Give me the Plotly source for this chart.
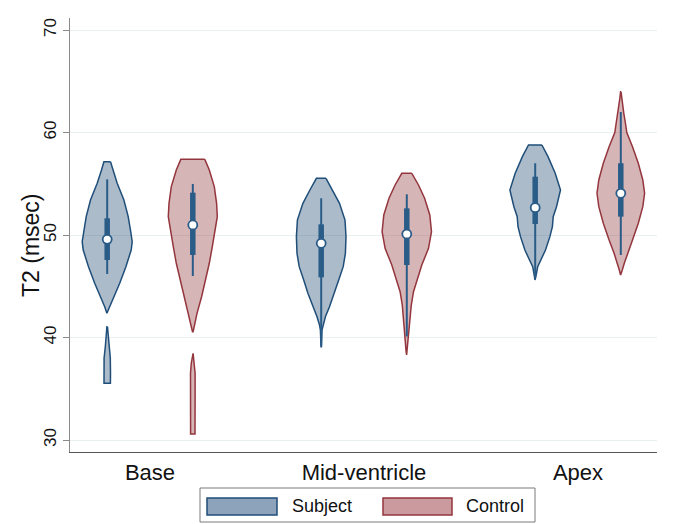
import plotly.graph_objects as go

# ---------------- data ----------------
REGIONS = ["Base", "Mid-ventricle", "Apex"]
GROUPS = ["Subject", "Control"]
Y_TICKS = [30, 40, 50, 60, 70]

# violin outlines: T2 levels (msec) and relative density (half-width, arbitrary units)
base_subject_y = [57.15, 56.34, 55.04, 53.41, 51.79, 50.16, 49.35, 48.54, 46.91, 45.29, 43.98, 43.0, 42.36]
base_subject_d = [3.3, 5.7, 10.0, 16.7, 21.0, 23.8, 25.0, 24.0, 18.7, 12.5, 7.0, 2.5, 0.3]
base_subject_tail_y = [41.05, 40.4, 39.1, 38.0, 36.5, 35.53]
base_subject_tail_d = [0.3, 1.0, 1.9, 3.1, 3.3, 3.2]

base_control_y = [57.38, 56.34, 54.72, 53.09, 51.79, 50.49, 48.86, 47.24, 45.61, 43.98, 42.36, 41.05, 40.57]
base_control_d = [12.0, 16.5, 21.5, 23.8, 24.5, 22.5, 19.5, 16.5, 13.0, 8.8, 4.2, 1.5, 0.3]
base_control_tail_y = [38.46, 37.5, 36.5, 34.0, 32.0, 30.58]
base_control_tail_d = [0.3, 1.5, 2.3, 2.3, 2.2, 2.2]

mid_subject_y = [55.53, 54.39, 53.09, 51.46, 49.84, 48.21, 46.91, 45.61, 44.31, 43.0, 42.03, 41.22, 40.73, 39.1]
mid_subject_d = [4.8, 11.3, 18.3, 23.8, 24.8, 24.2, 22.0, 17.5, 13.3, 8.3, 4.2, 1.7, 0.8, 0.2]

mid_control_y = [56.02, 54.88, 53.58, 51.95, 50.33, 48.70, 47.07, 45.44, 44.47, 43.17, 41.54, 39.92, 38.62, 38.3]
mid_control_d = [5.0, 11.7, 17.8, 23.0, 24.7, 21.7, 15.0, 10.0, 6.7, 4.5, 3.0, 1.8, 0.7, 0.2]

apex_subject_y = [58.78, 57.64, 56.02, 54.39, 52.76, 51.79, 50.81, 49.84, 48.54, 47.56, 46.91, 46.26, 45.61]
apex_subject_d = [6.7, 12.8, 20.0, 25.3, 21.3, 18.0, 17.2, 14.7, 10.3, 5.7, 2.5, 1.3, 0.2]

apex_control_y = [63.98, 63.3, 62.85, 61.87, 61.0, 60.0, 58.62, 57.0, 55.37, 54.07, 52.76, 51.14, 49.51, 48.21, 47.24, 46.59, 46.1]
apex_control_d = [0.2, 1.0, 1.7, 3.0, 4.5, 6.0, 11.7, 17.5, 22.0, 23.8, 22.0, 17.5, 11.7, 6.7, 3.5, 1.5, 0.2]

# box-plot summaries (Base, Mid-ventricle, Apex)
subject_whisker_lo = [46.2, 39.2, 45.8]
subject_q1 = [47.56, 45.87, 51.07]
subject_median = [49.58, 49.19, 52.67]
subject_q3 = [51.63, 51.04, 55.69]
subject_whisker_hi = [55.43, 53.58, 57.0]

control_whisker_lo = [46.0, 40.1, 48.05]
control_q1 = [48.05, 47.07, 51.79]
control_median = [50.98, 50.1, 54.07]
control_q3 = [54.13, 52.6, 57.0]
control_whisker_hi = [54.98, 53.97, 62.0]

# ---------------- styling ----------------
PAGE_OFF = 8                      # default page body margin of the html page
W, H = 674 - PAGE_OFF, 524 - PAGE_OFF
ML, MR, MT, MB = 70 - PAGE_OFF, 17, 18 - PAGE_OFF, 72
PW, PH = W - ML - MR, H - MT - MB
FONT = "Liberation Sans, Arial, Helvetica, sans-serif"

OUTLINE = {"Subject": "#1F4E79", "Control": "#94363D"}
FILL = {"Subject": "rgba(26,71,111,0.37)", "Control": "rgba(144,53,59,0.37)"}
LEG_FILL = {"Subject": "#8CA3BB", "Control": "#CA9A9E"}
BOXCOL = "#2A5C88"
OFFSET = 0.2
DENS_SCALE = 1.0 / 214.0   # density units -> x-axis units

X_RANGE = [1 - 80 / 214, 3 + 79 / 214]
Y_RANGE = [30 - 12 / 10.25, 70 + 12 / 10.25]

violins = {
    ("Base", "Subject"): [(base_subject_y, base_subject_d), (base_subject_tail_y, base_subject_tail_d)],
    ("Base", "Control"): [(base_control_y, base_control_d), (base_control_tail_y, base_control_tail_d)],
    ("Mid-ventricle", "Subject"): [(mid_subject_y, mid_subject_d)],
    ("Mid-ventricle", "Control"): [(mid_control_y, mid_control_d)],
    ("Apex", "Subject"): [(apex_subject_y, apex_subject_d)],
    ("Apex", "Control"): [(apex_control_y, apex_control_d)],
}
stats = {
    "Subject": (subject_whisker_lo, subject_q1, subject_median, subject_q3, subject_whisker_hi),
    "Control": (control_whisker_lo, control_q1, control_median, control_q3, control_whisker_hi),
}


def center(i, g):
    return (i + 1) + (-OFFSET if g == "Subject" else OFFSET)


fig = go.Figure()

for i, region in enumerate(REGIONS):
    for g in GROUPS:
        c = center(i, g)
        for ys, ds in violins[(region, g)]:
            xs = [c + d * DENS_SCALE for d in ds] + [c - d * DENS_SCALE for d in reversed(ds)]
            yy = list(ys) + list(reversed(ys))
            xs.append(xs[0]); yy.append(yy[0])
            fig.add_trace(go.Scatter(x=xs, y=yy, mode="lines", fill="toself",
                                     fillcolor=FILL[g], line=dict(color=OUTLINE[g], width=1.5),
                                     hoverinfo="skip", showlegend=False))

for i, region in enumerate(REGIONS):
    for g in GROUPS:
        c = center(i, g)
        lo, q1, med, q3, hi = (s[i] for s in stats[g])
        fig.add_trace(go.Scatter(x=[c, c], y=[lo, hi], mode="lines",
                                 line=dict(color=BOXCOL, width=2), hoverinfo="skip", showlegend=False))
        fig.add_trace(go.Scatter(x=[c, c], y=[q1, q3], mode="lines",
                                 line=dict(color=BOXCOL, width=5.5), hoverinfo="skip", showlegend=False))
        fig.add_trace(go.Scatter(x=[c], y=[med], mode="markers",
                                 marker=dict(symbol="circle", size=9, color="white",
                                             line=dict(color=BOXCOL, width=1.8)),
                                 hoverinfo="skip", showlegend=False))


# convert screen pixel positions (as seen in the reference) to paper coordinates
def px(xp):
    return (xp - PAGE_OFF - ML) / PW


def py(yp):
    return (H - MB - (yp - PAGE_OFF)) / PH


shapes = [dict(type="rect", xref="paper", yref="paper", x0=px(200), x1=px(535), y0=py(522), y1=py(488),
               line=dict(color="#7A7A7A", width=1), fillcolor="white", layer="above")]
annotations = []
legend_pos = {"Subject": (207, 277, 290), "Control": (383, 452, 464)}
for g in GROUPS:
    x0, x1, tx = legend_pos[g]
    shapes.append(dict(type="rect", xref="paper", yref="paper", x0=px(x0), x1=px(x1),
                       y0=py(515), y1=py(498), line=dict(color=OUTLINE[g], width=1.5),
                       fillcolor=LEG_FILL[g], layer="above"))
    annotations.append(dict(text=g, xref="paper", yref="paper", x=px(tx), y=py(506),
                            xanchor="left", yanchor="middle", showarrow=False,
                            font=dict(family=FONT, size=18, color="#111")))

annotations.append(dict(text="T2 (msec)", xref="paper", yref="paper", x=px(31), y=py(245),
                        xanchor="center", yanchor="middle", textangle=-90, showarrow=False,
                        font=dict(family=FONT, size=23, color="#111")))

fig.update_layout(
    width=W, height=H, margin=dict(l=ML, r=MR, t=MT, b=MB),
    paper_bgcolor="white", plot_bgcolor="white",
    showlegend=False, hovermode=False,
    shapes=shapes, annotations=annotations,
    font=dict(family=FONT, color="#111"),
)
fig.update_xaxes(range=X_RANGE, tickvals=[1, 2, 3], ticktext=REGIONS, ticks="",
                 showgrid=False, zeroline=False, showline=True, linecolor="#555", linewidth=1.3,
                 tickfont=dict(family=FONT, size=22, color="#111"), fixedrange=True)
fig.update_yaxes(range=Y_RANGE, tickvals=Y_TICKS, ticks="outside", ticklen=6, tickcolor="#8A8A8A",
                 tickwidth=1, tickangle=-90, showgrid=True, gridcolor="#E8F0F2", gridwidth=1,
                 zeroline=False, showline=True, linecolor="#8A8A8A", linewidth=1.3,
                 tickfont=dict(family=FONT, size=17, color="#111"), fixedrange=True)

fig.write_html("out.html")
